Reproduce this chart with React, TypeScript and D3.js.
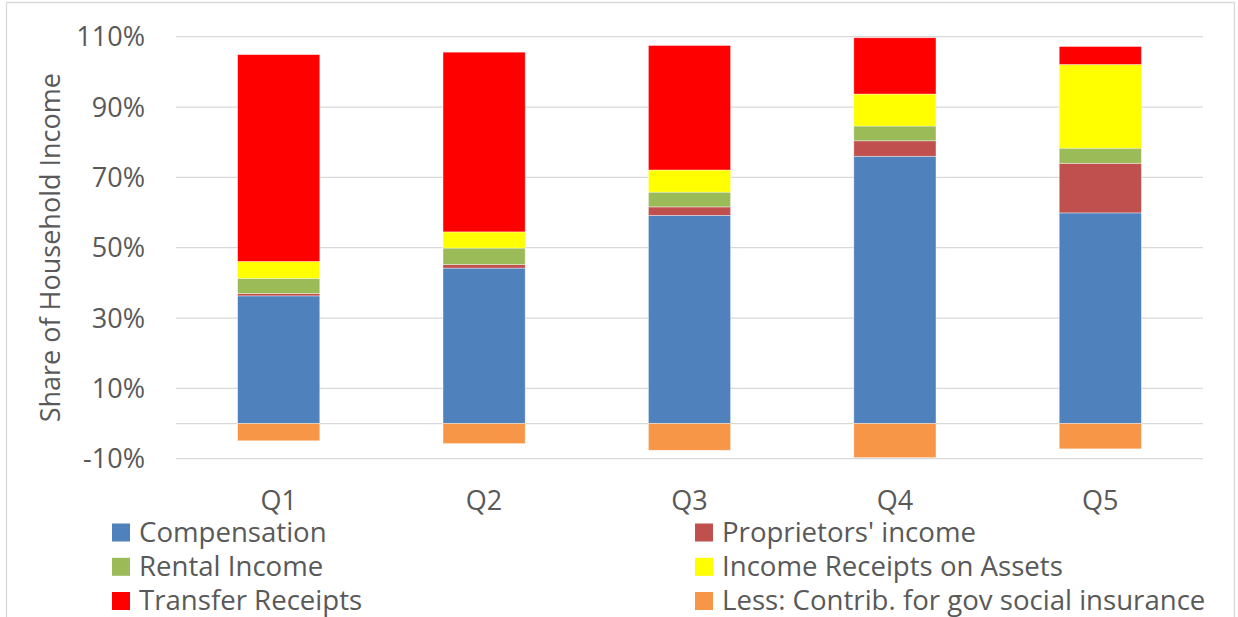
import React from "react";
import * as d3 from "d3";

const categories = ["Q1", "Q2", "Q3", "Q4", "Q5"];
const seriesNames = [
  "Compensation",
  "Proprietors' income",
  "Rental Income",
  "Income Receipts on Assets",
  "Transfer Receipts",
  "Less: Contrib. for gov social insurance",
];
const compensation = [36.3, 44.2, 59.2, 76.0, 59.9];
const proprietors = [0.7, 1.0, 2.4, 4.4, 14.1];
const rental = [4.3, 4.7, 4.2, 4.2, 4.3];
const assets = [4.8, 4.6, 6.3, 9.1, 23.8];
const transfer = [58.8, 51.1, 35.4, 16.0, 5.1];
const contrib = [-4.9, -5.7, -7.6, -9.7, -7.2];
const colors = ["#4f81bd", "#c0504d", "#9bbb59", "#ffff00", "#ff0000", "#f79646"];
const yTicks = [-10, 10, 30, 50, 70, 90, 110];

const W = 1238;
const H = 617;
const plotLeft = 176;
const plotRight = 1203;
const plotTop = 36.7;
const plotBottom = 458.7;
const FONT = "'Open Sans', 'Noto Sans', sans-serif";
const TXT = "#595959";
const GRID = "#d9d9d9";

export default function App() {
  const seriesArrays = [compensation, proprietors, rental, assets, transfer, contrib];
  const table = categories.map((c, i) => {
    const row: any = { cat: c };
    seriesNames.forEach((s, k) => (row[s] = seriesArrays[k][i]));
    return row;
  });
  const stacked = d3
    .stack<any>()
    .keys(seriesNames)
    .offset(d3.stackOffsetDiverging)(table);

  const x = d3.scaleBand().domain(categories).range([plotLeft, plotRight]).padding(0);
  const y = d3.scaleLinear().domain([-10, 110]).range([plotBottom, plotTop]);
  const barW = x.bandwidth() * 0.4;

  const legendRows = [541.5, 575.8, 610];
  const legendCols = [112, 695];

  return (
    <svg
      width={W}
      height={H}
      style={{ position: "absolute", left: 0, top: 0, background: "#fff" }}
      fontFamily={FONT}
    >
      <rect x={0} y={0} width={W} height={H} fill="#fff" />
      <path
        d={`M6.5,${H} V2.5 H1234.5 V${H}`}
        fill="none"
        stroke={GRID}
        strokeWidth={1.3}
      />
      {yTicks.map((t) => (
        <g key={t}>
          <line
            x1={plotLeft}
            x2={plotRight}
            y1={y(t)}
            y2={y(t)}
            stroke={GRID}
            strokeWidth={1.3}
          />
          <text
            x={145}
            y={y(t) + 9.5}
            textAnchor="end"
            fontSize={27}
            fill={TXT}
          >
            {t}%
          </text>
        </g>
      ))}
      <line
        x1={plotLeft}
        x2={plotRight}
        y1={y(0)}
        y2={y(0)}
        stroke={GRID}
        strokeWidth={1.3}
      />
      {stacked.map((s, k) => (
        <g key={s.key} fill={colors[k]}>
          {s.map((d, i) => {
            const y0 = y(d[0]);
            const y1 = y(d[1]);
            const cx = (x(categories[i]) as number) + x.bandwidth() / 2;
            return (
              <rect
                key={i}
                x={cx - barW / 2}
                y={Math.min(y0, y1)}
                width={barW}
                height={Math.abs(y0 - y1)}
                stroke="#ffffff"
                strokeOpacity={0.5}
                strokeWidth={0.75}
              />
            );
          })}
        </g>
      ))}
      {categories.map((c) => (
        <text
          key={c}
          x={(x(c) as number) + x.bandwidth() / 2}
          y={510}
          textAnchor="middle"
          fontSize={27}
          fill={TXT}
        >
          {c}
        </text>
      ))}
      <text
        transform={`translate(59.5,${(plotTop + plotBottom) / 2}) rotate(-90)`}
        textAnchor="middle"
        fontSize={27}
        fill={TXT}
      >
        Share of Household Income
      </text>
      {seriesNames.map((s, k) => {
        const col = k % 2;
        const row = Math.floor(k / 2);
        const bx = legendCols[col];
        const by = legendRows[row];
        return (
          <g key={s}>
            <rect x={bx} y={by - 18} width={18} height={18} fill={colors[k]} />
            <text x={bx + 27} y={by} fontSize={27.6} fill={TXT}>
              {s}
            </text>
          </g>
        );
      })}
    </svg>
  );
}
